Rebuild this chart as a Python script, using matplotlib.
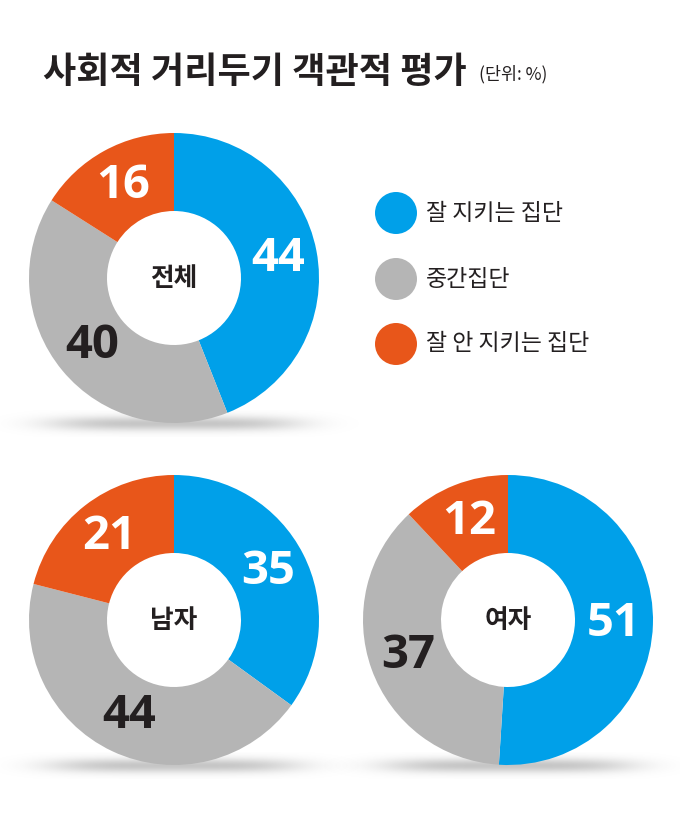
import numpy as np
import matplotlib.pyplot as plt

plt.rcParams['font.family'] = ['Noto Sans CJK KR', 'DejaVu Sans']

# -----------------------------
# data
# -----------------------------
groups = ['전체', '남자', '여자']
keep_well = [44, 35, 51]      # 잘 지키는 집단
middle = [40, 44, 37]         # 중간집단
keep_poor = [16, 21, 12]      # 잘 안 지키는 집단
legend_labels = ['잘 지키는 집단', '중간집단', '잘 안 지키는 집단']

title = '사회적 거리두기 객관적 평가'
unit = '(단위: %)'

colors = ['#00a0e9', '#b5b5b5', '#e8561a']
label_colors = ['white', '#231f20', 'white']
dark = '#231f20'

# -----------------------------
# layout (pixel units, y measured from top)
# -----------------------------
W, H = 680, 830
R_OUT, R_IN = 145, 67
centers = [(174, 278), (174, 620), (508, 620)]

fig = plt.figure(figsize=(W / 100, H / 100), dpi=100)
ax = fig.add_axes([0, 0, 1, 1])


def shadow(cx, cy, half_w, half_h):
    xs = np.linspace(-1.5, 1.5, 240)
    ys = np.linspace(-1.5, 1.5, 60)
    X, Y = np.meshgrid(xs, ys)
    a = 0.5 * np.exp(-(np.abs(X) ** 4) - (Y ** 2) * 1.5)
    img = np.zeros((len(ys), len(xs), 4))
    img[..., :3] = 0.55
    img[..., 3] = a
    ax.imshow(img, extent=[cx - 1.5 * half_w, cx + 1.5 * half_w,
                           H - cy - 1.5 * half_h, H - cy + 1.5 * half_h],
              origin='lower', aspect='auto', zorder=1, interpolation='bilinear')


for i, (cx, cy) in enumerate(centers):
    vals = [keep_well[i], middle[i], keep_poor[i]]
    shadow(cx, cy + R_OUT + 1, 125, 9)
    wedges, _ = ax.pie(vals, colors=colors, startangle=90, counterclock=False,
                       radius=R_OUT, center=(cx, H - cy),
                       wedgeprops=dict(width=R_OUT - R_IN, linewidth=0))
    for w in wedges:
        w.set_zorder(2)

    # value labels at the middle of each wedge
    total = float(sum(vals))
    start = 0.0
    r_lab = (R_OUT + R_IN) / 2
    for v, tc in zip(vals, label_colors):
        mid = (start + v / 2) / total * 2 * np.pi
        start += v
        x = cx + r_lab * np.sin(mid)
        y = H - cy + r_lab * np.cos(mid)
        ax.text(x, y, str(v), color=tc, fontsize=34, fontweight='bold',
                family=['Open Sans', 'DejaVu Sans'],
                ha='center', va='center', zorder=3)

    ax.text(cx, H - cy, groups[i], color=dark, fontsize=18.5, fontweight='bold',
            ha='center', va='center', zorder=3)

# legend
leg_x = 396
leg_y = [213, 279, 344]
for lab, c, ly in zip(legend_labels, colors, leg_y):
    ax.add_patch(plt.Circle((leg_x, H - ly), 21, color=c, lw=0, zorder=2))
    ax.text(leg_x + 30, H - ly, lab, color=dark, fontsize=16.5,
            ha='left', va='center')

# title
ax.text(43, H - 72, title, color=dark, fontsize=26, fontweight='bold',
        ha='left', va='center')
ax.text(479, H - 74, unit, color=dark, fontsize=12.5,
        ha='left', va='center')

ax.set_xlim(0, W)
ax.set_ylim(0, H)
ax.set_aspect('equal')
ax.axis('off')

plt.savefig('out.png', dpi=100, facecolor='white')
